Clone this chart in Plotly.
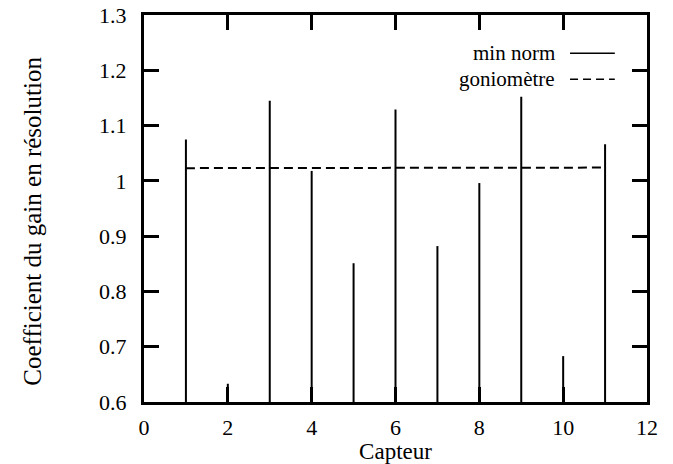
import plotly.graph_objects as go

capteurs = [1, 2, 3, 4, 5, 6, 7, 8, 9, 10, 11]
min_norm = [1.075, 0.633, 1.145, 1.018, 0.851, 1.129, 0.882, 0.996, 1.152, 0.683, 1.066]
goniometre = [1.023, 1.023, 1.023, 1.023, 1.023, 1.023, 1.023, 1.023, 1.023, 1.023, 1.024]
y_base = 0.6
series_names = ["min norm", "goniomètre"]
x_title = "Capteur"
y_title = "Coefficient du gain en résolution"

FONT = "Liberation Serif"

# impulses built from the data
xs, ys = [], []
for c, v in zip(capteurs, min_norm):
    xs += [c, c, None]
    ys += [y_base, v, None]

fig = go.Figure()
fig.add_trace(go.Scatter(x=xs, y=ys, mode="lines", line=dict(color="black", width=2),
                         name=series_names[0], showlegend=False, hoverinfo="skip"))
fig.add_trace(go.Scatter(x=capteurs, y=goniometre, mode="lines",
                         line=dict(color="black", width=2, dash="9px,5px"),
                         name=series_names[1], showlegend=False))

# legend (text left of the sample line, gnuplot style)
leg_text_y = [0.903, 0.834]
leg_line_y = [0.901, 0.834]
for i, (name, dash) in enumerate(zip(series_names, ["solid", "8px,5px"])):
    fig.add_annotation(text=name, xref="paper", yref="paper", x=0.822, y=leg_text_y[i],
                       xanchor="right", yanchor="middle", showarrow=False,
                       font=dict(family=FONT, size=21, color="black"))
    fig.add_shape(type="line", xref="paper", yref="paper", x0=0.847, x1=0.936,
                  y0=leg_line_y[i], y1=leg_line_y[i],
                  line=dict(color="black", width=1.5, dash=dash))

# y axis title
fig.add_annotation(text=y_title, xref="paper", yref="paper", x=-0.221, y=0.468,
                   xanchor="center", yanchor="middle", textangle=-90, showarrow=False,
                   font=dict(family=FONT, size=25, color="black"))

axis_common = dict(showgrid=False, zeroline=False, showline=True, linecolor="black",
                   linewidth=3, mirror="ticks", ticks="inside", ticklen=15, tickwidth=3,
                   tickcolor="black", automargin=False,
                   tickfont=dict(family=FONT, size=22, color="black"))

fig.update_xaxes(range=[0, 12], tick0=0, dtick=2, ticklabelstandoff=4,
                 title=dict(text=x_title, font=dict(family=FONT, size=23, color="black"),
                            standoff=0),
                 **axis_common)
fig.update_yaxes(range=[0.6, 1.3], tick0=0.6, dtick=0.1, ticklabelstandoff=10,
                 **axis_common)

fig.update_layout(width=673, height=464, plot_bgcolor="white", paper_bgcolor="white",
                  font=dict(family=FONT, color="black"),
                  margin=dict(l=144, r=26, t=15, b=62), showlegend=False)

fig.write_html("out.html", config={"displayModeBar": False},
               post_script="document.body.style.margin='0';document.body.style.padding='0';")
